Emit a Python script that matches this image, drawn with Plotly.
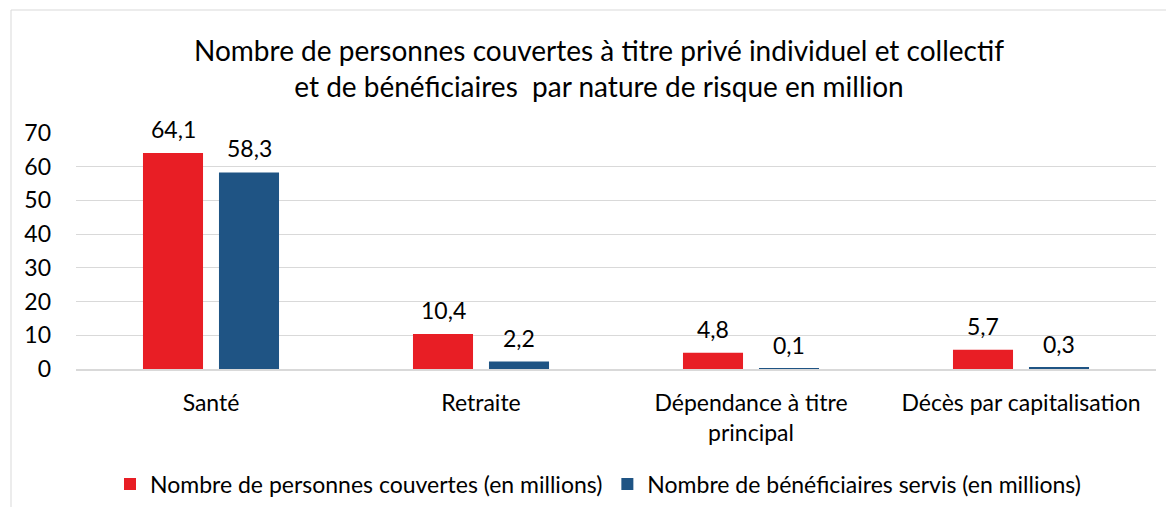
import plotly.graph_objects as go

categories = ["Santé", "Retraite", "Dépendance", "Décès"]
tick_labels = ["Santé", "Retraite", "Dépendance à titre<br>principal", "Décès par capitalisation"]
series_names = ["Nombre de personnes couvertes (en millions)",
                "Nombre de bénéficiaires servis (en millions)"]
couvertes = [64.1, 10.4, 4.8, 5.7]
beneficiaires = [58.3, 2.2, 0.1, 0.3]
y_ticks = [0, 10, 20, 30, 40, 50, 60, 70]
colors = ["#E81E25", "#1F5484"]
title_text = ("Nombre de personnes couvertes à titre privé individuel et collectif"
              "<br>et de bénéficiaires\u00a0 par nature de risque en million")

FONT = "Lato"
FS = 23
OFF = 8  # page body margin
W, H = 1174 - OFF, 515 - 2 * OFF
PL, PR, PT, PB = 76, 1156, 133, 369  # plot area in page pixels
L, R, T, B = PL - OFF, W - (PR - OFF), PT - OFF, H - (PB - OFF)
pw, ph = PR - PL, PB - PT

def fmt(v):
    return f"{v:.1f}".replace(".", ",")

def px_x(p):
    return (p - PL) / pw

def px_y(p):
    return (PB - p) / ph

fig = go.Figure()
for name, vals, col in zip(series_names, [couvertes, beneficiaires], colors):
    fig.add_trace(go.Bar(x=categories, y=vals, name=name, marker_color=col,
                         marker_line_width=0))

annotations = []
for vals, shift in [(couvertes, -38), (beneficiaires, 38)]:
    for c, v in zip(categories, vals):
        annotations.append(dict(x=c, y=v, xref="x", yref="y", text=fmt(v),
                                showarrow=False, yanchor="bottom", xshift=shift,
                                yshift=8, font=dict(size=FS, color="#000000", family=FONT)))

fig.update_layout(
    width=W, height=H,
    margin=dict(l=L, r=R, t=T, b=B, autoexpand=False),
    paper_bgcolor="white", plot_bgcolor="white",
    font=dict(family=FONT, size=FS, color="#000000"),
    title=dict(text=title_text, x=(599 - OFF) / W, xref="container", xanchor="center",
               y=1 - (60.5 - OFF) / H, yref="container", yanchor="middle",
               font=dict(size=28, family=FONT, color="#000000")),
    barmode="group", bargap=0.437, bargroupgap=0.21,
    showlegend=True,
    legend=dict(orientation="h", x=px_x(598), xanchor="center", y=px_y(484),
                yanchor="middle", font=dict(size=FS, family=FONT),
                traceorder="normal"),
    annotations=annotations,
    shapes=[dict(type="rect", xref="paper", yref="paper",
                 x0=px_x(11), x1=px_x(1185), y0=px_y(525), y1=px_y(10),
                 line=dict(color="#D9D9D9", width=1), layer="below")],
)
fig.update_xaxes(tickvals=categories, ticktext=tick_labels, showline=True,
                 linecolor="#D9D9D9", linewidth=2, ticks="", showgrid=False,
                 ticklabelstandoff=12, tickfont=dict(size=FS))
fig.update_yaxes(range=[0, 70], tickvals=y_ticks, showgrid=True, gridcolor="#D9D9D9",
                 gridwidth=1, zeroline=False, ticks="", ticklabelstandoff=24,
                 tickfont=dict(size=FS))

fig.write_html("out.html")
